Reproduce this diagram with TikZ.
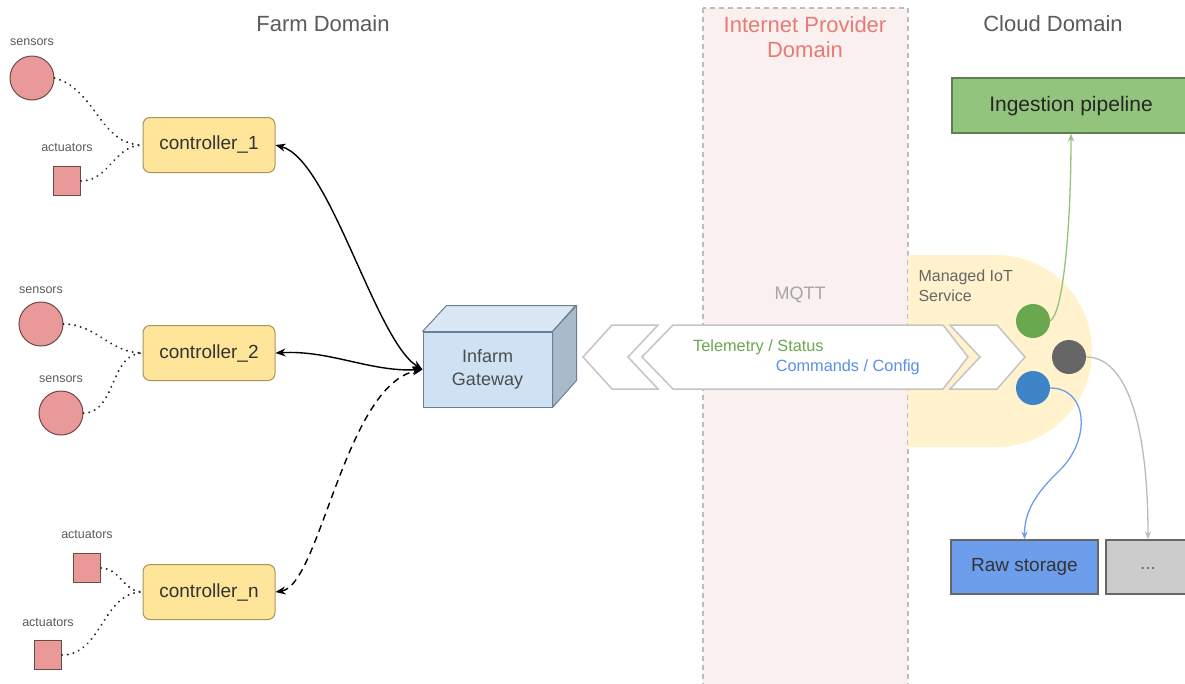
\documentclass[tikz,border=0pt]{standalone}
\usepackage{fontspec}
\setmainfont{Liberation Sans}
\usetikzlibrary{arrows.meta}
\definecolor{titlegray}{HTML}{5A5A5A}
\definecolor{ispred}{HTML}{E67C73}
\definecolor{ispfill}{HTML}{FAF0F0}
\definecolor{ispline}{HTML}{BDBDBD}
\definecolor{sensfill}{HTML}{EA9999}
\definecolor{sensline}{HTML}{6B4A4A}
\definecolor{ctrlfill}{HTML}{FFE599}
\definecolor{ctrlline}{HTML}{A8945A}
\definecolor{gwfront}{HTML}{CFE2F3}
\definecolor{gwtop}{HTML}{DAE8F5}
\definecolor{gwside}{HTML}{A9BBCB}
\definecolor{gwline}{HTML}{6F7F8F}
\definecolor{iotfill}{HTML}{FFF2CC}
\definecolor{chevline}{HTML}{C4C4C4}
\definecolor{telegreen}{HTML}{6AA84F}
\definecolor{cmdblue}{HTML}{5B8FE8}
\definecolor{inggreen}{HTML}{93C47D}
\definecolor{ingline}{HTML}{5E7F50}
\definecolor{rawblue}{HTML}{6D9EEB}
\definecolor{dotgray}{HTML}{CCCCCC}
\definecolor{darkdot}{HTML}{666666}
\definecolor{bluedot}{HTML}{3D85C6}
\definecolor{lightgreen}{HTML}{93C47D}
\definecolor{lightgray}{HTML}{BBBBBB}
\begin{document}
\begin{tikzpicture}[x=1pt,y=-1pt,
  title/.style={font=\fontsize{22}{26}\selectfont, text=titlegray},
  smalllbl/.style={font=\fontsize{12.5}{14}\selectfont, text=titlegray},
  sensorc/.style={circle, draw=sensline, fill=sensfill, line width=1pt, minimum size=44pt, inner sep=0pt},
  actbox/.style={rectangle, draw=sensline, fill=sensfill, line width=1pt, minimum width=27pt, minimum height=29pt, inner sep=0pt},
  ctrl/.style={rectangle, rounded corners=7pt, draw=ctrlline, fill=ctrlfill, line width=1pt, minimum width=132pt, minimum height=55pt, font=\fontsize{19}{22}\selectfont, text=black!80},
  dotline/.style={line width=2.2pt, black!85, dash pattern=on 0.01pt off 5.8pt, line cap=round},
  biarrow/.style={line width=1.4pt, {Stealth[length=10pt,width=8pt]}-{Stealth[length=10pt,width=8pt]}},
  chev/.style={draw=chevline, fill=white, line width=1.5pt, line join=miter},
  dotc/.style={circle, minimum size=34pt, inner sep=0pt},
  cloudbox/.style={rectangle, line width=1.3pt, minimum height=54pt, inner sep=0pt},
  flowarrow/.style={line width=1.3pt, -{Stealth[length=8pt,width=6pt]}}
]
\useasboundingbox (0,0) rectangle (1185,683);

% Internet provider domain
\draw[ispline, fill=ispfill, dash pattern=on 5pt off 4pt, line width=1.2pt] (703,8) rectangle (908,700);
\node[font=\fontsize{22}{26}\selectfont, text=ispred, align=center] (isp) at (805,37) {Internet Provider\\[-1pt]Domain};

% titles
\node[title] (farm) at (323,24) {Farm Domain};
\node[title] (cloud) at (1053,24) {Cloud Domain};

% Managed IoT service region
\fill[iotfill] (908,255) -- (996,255) arc[start angle=-90,end angle=90,radius=96] -- (908,447) -- cycle;
\node[font=\fontsize{16}{20}\selectfont, text=darkdot, align=left, anchor=north west] (iot) at (915,266) {Managed IoT\\Service};

% chevrons
\draw[chev] (583,357) -- (612,325) -- (658,325) -- (628,357) -- (658,389) -- (612,389) -- cycle;
\draw[chev] (642,357) -- (673,325) -- (943,325) -- (968,357) -- (943,389) -- (673,389) -- cycle;
\draw[chev] (950,325) -- (997,325) -- (1025,357) -- (997,389) -- (950,389) -- (980,357) -- cycle;
\node[font=\fontsize{18}{20}\selectfont, text=black!35] (mqtt) at (800,295) {MQTT};
\node[font=\fontsize{16.3}{19}\selectfont, text=telegreen, anchor=west, inner sep=0pt] (tele) at (693,347) {Telemetry / Status};
\node[font=\fontsize{16.3}{19}\selectfont, text=cmdblue, anchor=east, inner sep=0pt] (cmd) at (920,367) {Commands / Config};

% sensors / actuators
\node[sensorc] (s1) at (32,78) {};
\node[smalllbl] (s1l) at (32,42) {sensors};
\node[actbox] (a1) at (67,181) {};
\node[smalllbl] (a1l) at (67,148) {actuators};
\node[sensorc] (s2) at (41,324) {};
\node[smalllbl] (s2l) at (41,290) {sensors};
\node[sensorc] (s3) at (61,413) {};
\node[smalllbl] (s3l) at (61,379) {sensors};
\node[actbox] (a2) at (87,568) {};
\node[smalllbl] (a2l) at (87,535) {actuators};
\node[actbox] (a3) at (48,655) {};
\node[smalllbl] (a3l) at (48,623) {actuators};

% controllers
\node[ctrl] (c1) at (209,145) {controller\_1};
\node[ctrl] (c2) at (209,353) {controller\_2};
\node[ctrl] (cn) at (209,592) {controller\_n};

% dotted links
\draw[dotline] (s1.east) to[out=-15,in=180] (c1.west);
\draw[dotline] (a1.east) to[out=0,in=180] (c1.west);
\draw[dotline] (s2.east) to[out=0,in=180] (c2.west);
\draw[dotline] (s3.east) to[out=0,in=180] (c2.west);
\draw[dotline] (a2.east) to[out=0,in=180] (cn.west);
\draw[dotline] (a3.east) to[out=0,in=180] (cn.west);

% gateway cube
\node[rectangle, draw=gwline, fill=gwfront, line width=1pt, minimum width=129pt, minimum height=75pt, font=\fontsize{18}{23}\selectfont, text=black!70, align=center] (gw) at (487.5,369.5) {Infarm\\Gateway};
\draw[gwline, fill=gwtop, line width=1pt, line join=round] (gw.north west) -- ++(24,-26) -- ++(129,0) -- (gw.north east) -- cycle;
\draw[gwline, fill=gwside, line width=1pt, line join=round] (gw.north east) -- ++(24,-26) -- ++(0,75) -- (gw.south east) -- cycle;

% controller links
\draw[biarrow] (c1.east) .. controls (330,160) and (375,340) .. (gw.west);
\draw[biarrow] (c2.east) .. controls (330,350) and (370,372) .. (gw.west);
\draw[biarrow, dashed, dash pattern=on 7pt off 5pt] (cn.east) .. controls (320,585) and (345,385) .. (gw.west);

% cloud boxes
\node[cloudbox, draw=ingline, fill=inggreen, minimum width=238pt, minimum height=55pt] (ing) at (1071,105.5) {};
\node[font=\fontsize{21}{24}\selectfont, text=black!85] (ingt) at (1071,106) {Ingestion pipeline};
\node[cloudbox, draw=darkdot, fill=rawblue, minimum width=147pt, font=\fontsize{19}{22}\selectfont, text=black!80] (raw) at (1024.5,567) {Raw storage};
\node[cloudbox, draw=darkdot, fill=dotgray, minimum width=84pt] (dots) at (1148,567) {};
\node[font=\fontsize{19}{22}\selectfont, text=darkdot] (dotst) at (1148,568) {...};

% service endpoints
\node[dotc, fill=telegreen] (gc) at (1033,321) {};
\node[dotc, fill=darkdot] (dc) at (1069,357) {};
\node[dotc, fill=bluedot] (bc) at (1033,388) {};

\draw[flowarrow, lightgreen] (gc.east) .. controls (1064,312) and (1071,220) .. (ing.south);
\draw[flowarrow, rawblue] (bc.east) .. controls (1088,388) and (1092,440) .. (1058,472) .. controls (1032,497) and (1024.5,515) .. (raw.north);
\draw[flowarrow, lightgray] (dc.east) .. controls (1125,357) and (1148,420) .. (dots.north);
\end{tikzpicture}
\end{document}
